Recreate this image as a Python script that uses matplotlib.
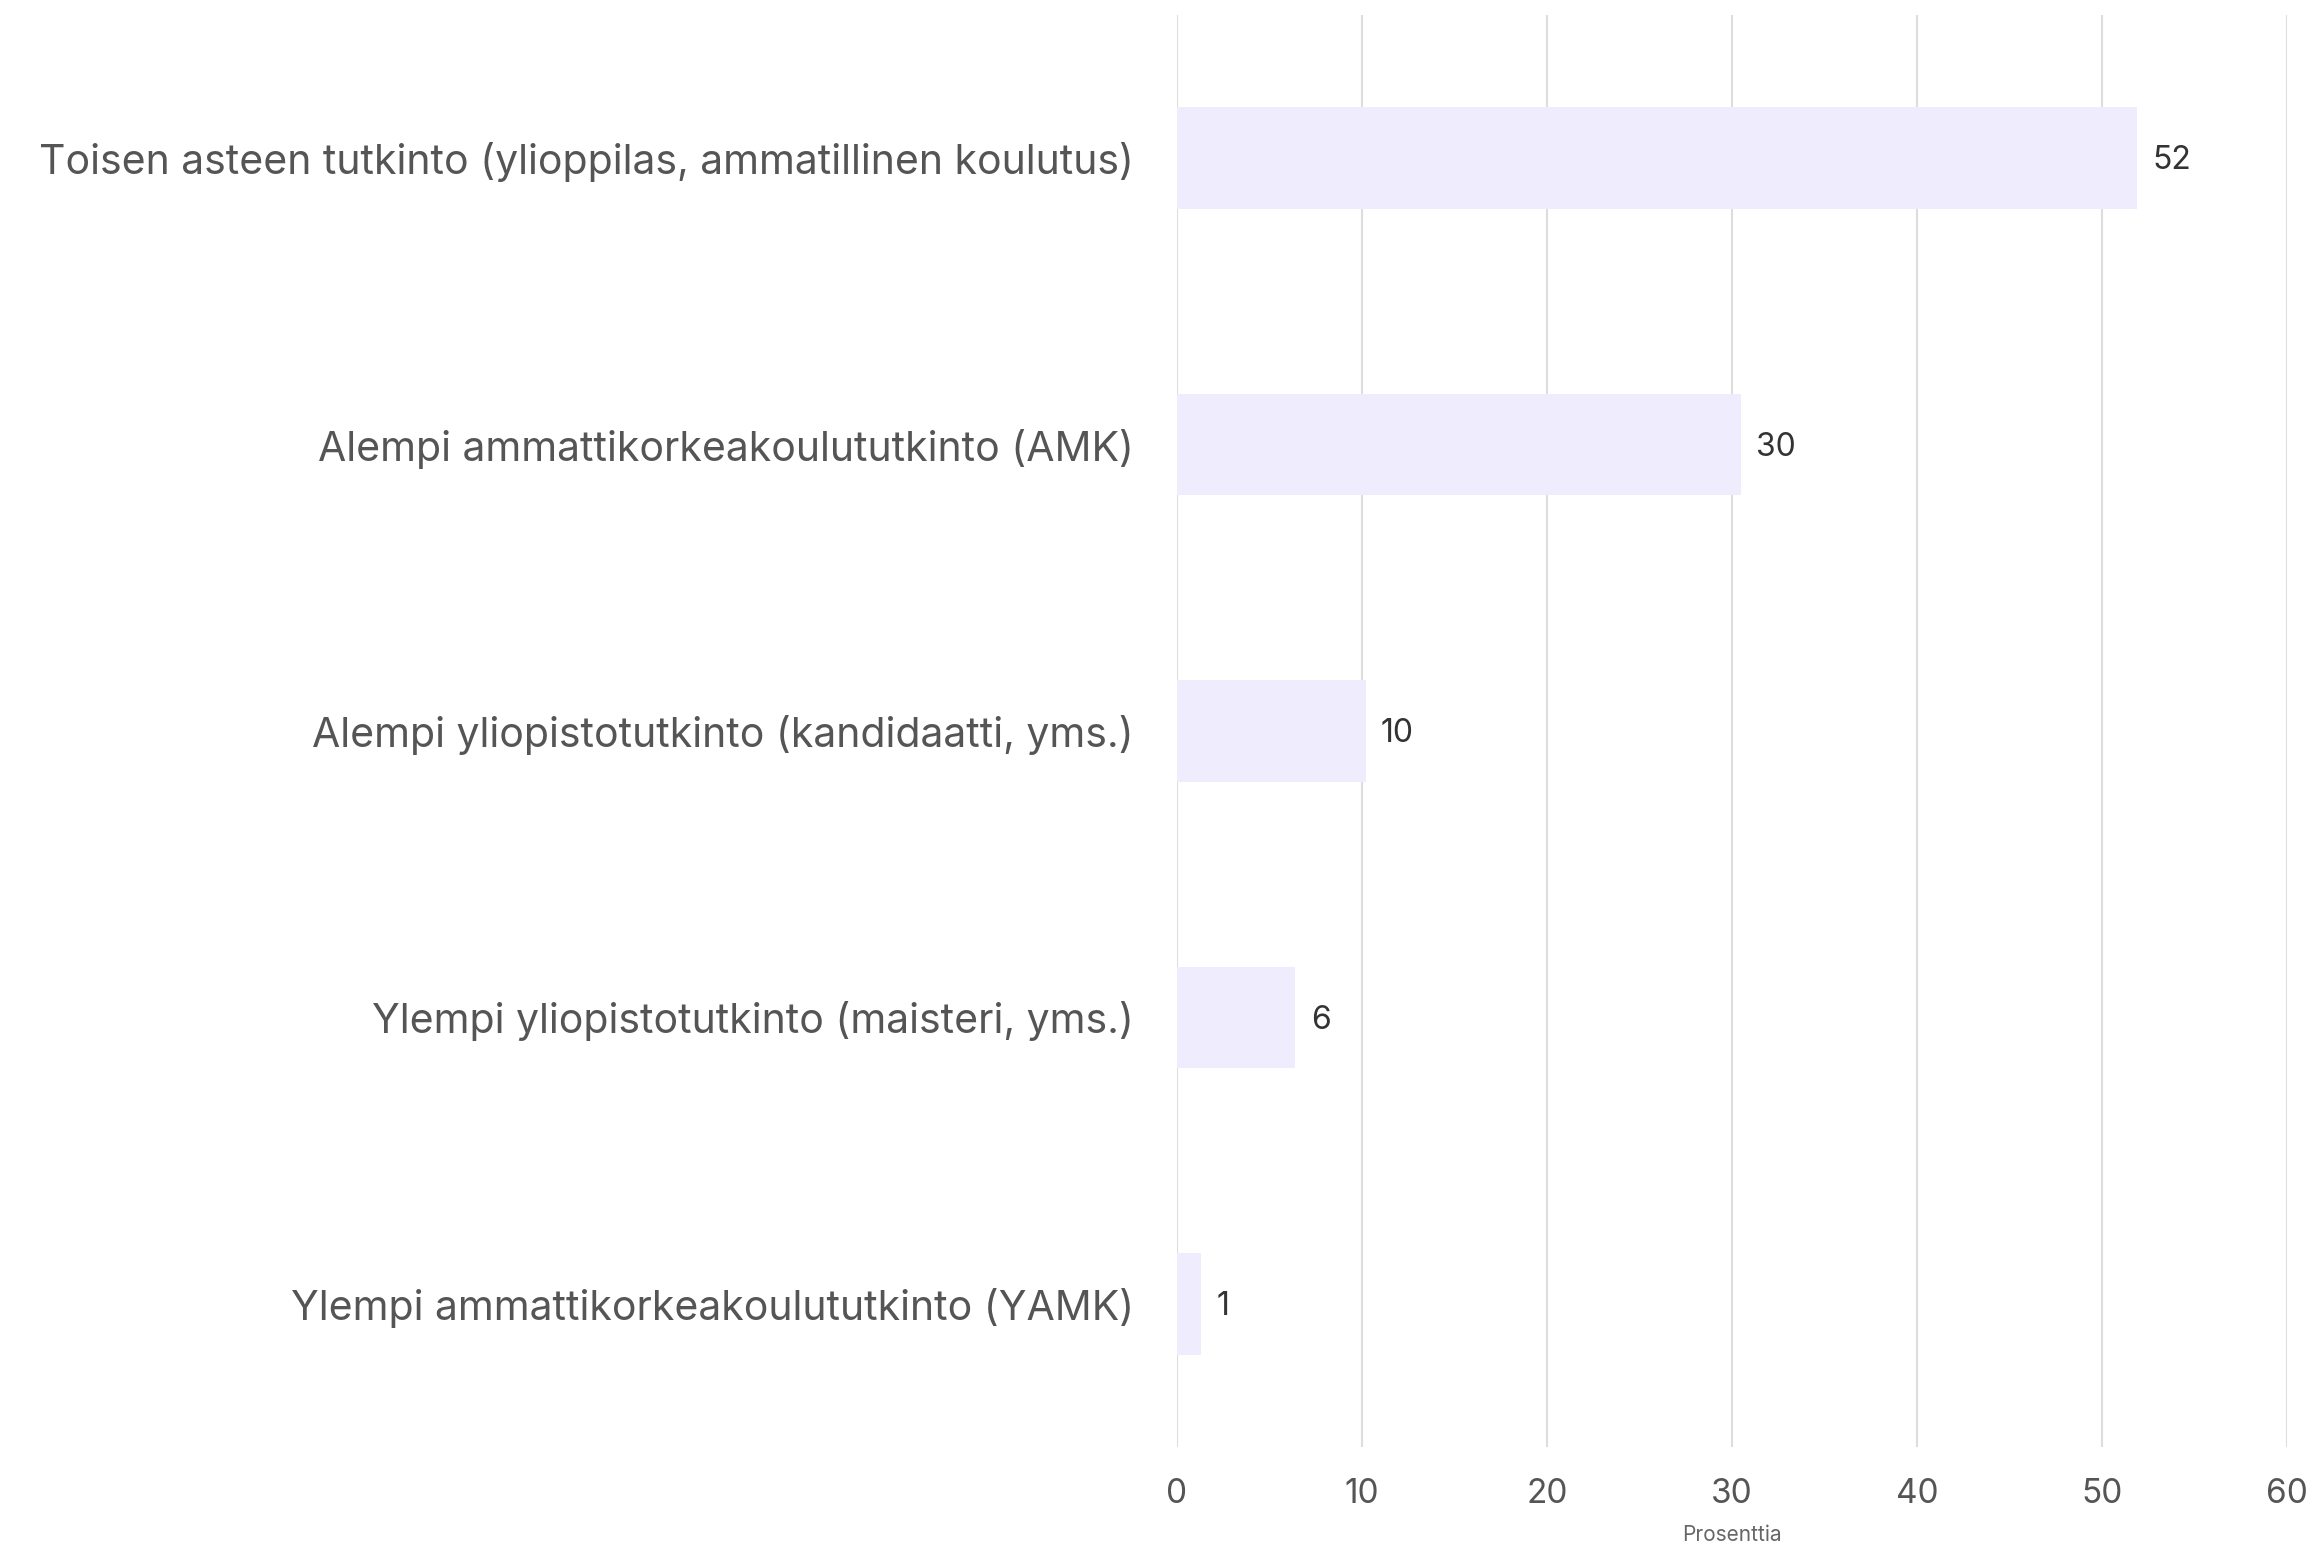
import matplotlib
matplotlib.use("Agg")
import matplotlib.pyplot as plt

plt.rcParams['font.family'] = ['Inter', 'DejaVu Sans']

# data
categories = [
    "Toisen asteen tutkinto (ylioppilas, ammatillinen koulutus)",
    "Alempi ammattikorkeakoulututkinto (AMK)",
    "Alempi yliopistotutkinto (kandidaatti, yms.)",
    "Ylempi yliopistotutkinto (maisteri, yms.)",
    "Ylempi ammattikorkeakoulututkinto (YAMK)",
]
values = [51.9, 30.5, 10.2, 6.4, 1.3]
xticks = [0, 10, 20, 30, 40, 50, 60]
xlabel = "Prosenttia"

bar_col = "#efedfd"
grid_col = "#dddddd"
text_col = "#555555"

fig = plt.figure(figsize=(23.15, 15.47), dpi=100)
ax = fig.add_axes([0.5084, 0.0646, 0.4795, 0.9257])

ypos = list(range(len(categories)))
ax.barh(ypos, values, height=0.355, color=bar_col, zorder=2)

# value labels next to bars
for y, v in zip(ypos, values):
    ax.annotate(f"{round(v)}", (v, y), xytext=(11, -2), textcoords="offset points",
                va="center", ha="left", fontsize=23, color="#333333")

ax.set_ylim(len(categories) - 0.5, -0.5)
ax.set_xlim(0, 60)
ax.set_xticks(xticks)
ax.set_yticks(ypos)
ax.set_yticklabels(categories, fontsize=29.5, color=text_col)
ax.tick_params(axis="y", length=0, pad=31)
ax.tick_params(axis="x", length=0, pad=22, labelsize=24, labelcolor=text_col)
ax.grid(axis="x", color=grid_col, linewidth=1.5, zorder=0)
ax.set_axisbelow(True)
for s in ax.spines.values():
    s.set_visible(False)

ax.set_xlabel(xlabel, fontsize=15, color="#666666", labelpad=11)

fig.savefig("out.png", dpi=100, facecolor="white")
